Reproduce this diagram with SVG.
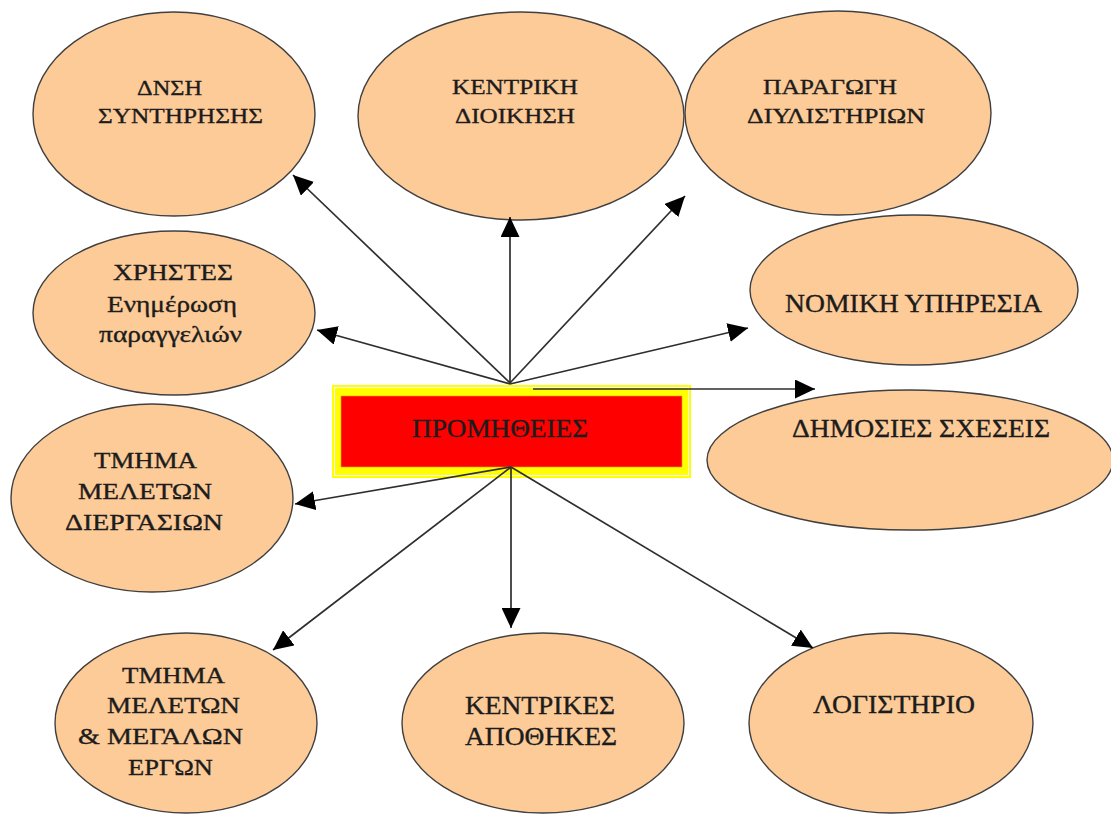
<svg xmlns="http://www.w3.org/2000/svg" width="1111" height="814" viewBox="0 0 1111 814">
<style>
.n{fill:#FDCB98;stroke:#404040;stroke-width:1.4}
.t{font-family:"Liberation Serif","DejaVu Serif",serif;fill:#1c1c1c;stroke:#1c1c1c;stroke-width:0.35;font-size:24px}
.s{font-size:22px}
.b{font-size:26px}
.c{fill:none;stroke:#2e2e2e;stroke-width:1.7}
</style>
<defs>
<marker id="ah" markerUnits="userSpaceOnUse" markerWidth="21" markerHeight="19" refX="20" refY="9.5" orient="auto" viewBox="0 0 21 19">
<path d="M0,0 L20,9.5 L0,19 Z" fill="#000"/>
</marker>
</defs>
<rect x="0" y="0" width="1111" height="814" fill="#fff"/>

<g id="dnsh">
<ellipse class="n" cx="174" cy="114" rx="141" ry="102"/>
<text class="t s" x="137" y="95" textLength="65" lengthAdjust="spacingAndGlyphs">ΔΝΣΗ</text>
<text class="t s" x="98" y="123" textLength="165" lengthAdjust="spacingAndGlyphs">ΣΥΝΤΗΡΗΣΗΣ</text>
</g>
<g id="kentriki">
<ellipse class="n" cx="521" cy="116" rx="163" ry="104"/>
<text class="t s" x="452" y="94" textLength="126" lengthAdjust="spacingAndGlyphs">ΚΕΝΤΡΙΚΗ</text>
<text class="t s" x="455" y="123" textLength="120" lengthAdjust="spacingAndGlyphs">ΔΙΟΙΚΗΣΗ</text>
</g>
<g id="paragogi">
<ellipse class="n" cx="838" cy="113" rx="153" ry="102"/>
<text class="t s" x="763" y="94" textLength="134" lengthAdjust="spacingAndGlyphs">ΠΑΡΑΓΩΓΗ</text>
<text class="t s" x="747" y="123" textLength="178" lengthAdjust="spacingAndGlyphs">ΔΙΥΛΙΣΤΗΡΙΩΝ</text>
</g>
<g id="xristes">
<ellipse class="n" cx="174" cy="313" rx="141" ry="82"/>
<text class="t" x="113" y="280" textLength="120" lengthAdjust="spacingAndGlyphs">ΧΡΗΣΤΕΣ</text>
<text class="t" x="107" y="312" textLength="130" lengthAdjust="spacingAndGlyphs">Ενημέρωση</text>
<text class="t" x="99" y="342" textLength="143" lengthAdjust="spacingAndGlyphs">παραγγελιών</text>
</g>
<g id="diergasion">
<ellipse class="n" cx="152" cy="498" rx="141" ry="94"/>
<text class="t" x="94" y="468" textLength="103" lengthAdjust="spacingAndGlyphs">ΤΜΗΜΑ</text>
<text class="t" x="78" y="499" textLength="134" lengthAdjust="spacingAndGlyphs">ΜΕΛΕΤΩΝ</text>
<text class="t" x="65" y="530" textLength="158" lengthAdjust="spacingAndGlyphs">ΔΙΕΡΓΑΣΙΩΝ</text>
</g>
<g id="nomiki">
<ellipse class="n" cx="914" cy="290" rx="164" ry="75"/>
<text class="t b" x="785" y="312" textLength="257" lengthAdjust="spacingAndGlyphs">ΝΟΜΙΚΗ ΥΠΗΡΕΣΙΑ</text>
</g>
<g id="dimosies">
<ellipse class="n" cx="910" cy="460" rx="203" ry="70"/>
<text class="t b" x="792" y="437" textLength="258" lengthAdjust="spacingAndGlyphs">ΔΗΜΟΣΙΕΣ ΣΧΕΣΕΙΣ</text>
</g>
<g id="ergon">
<ellipse class="n" cx="186" cy="723" rx="131" ry="90"/>
<text class="t" x="122" y="683" textLength="103" lengthAdjust="spacingAndGlyphs">ΤΜΗΜΑ</text>
<text class="t" x="107" y="713" textLength="133" lengthAdjust="spacingAndGlyphs">ΜΕΛΕΤΩΝ</text>
<text class="t" x="78" y="744" textLength="165" lengthAdjust="spacingAndGlyphs">&amp; ΜΕΓΑΛΩΝ</text>
<text class="t" x="128" y="775" textLength="85" lengthAdjust="spacingAndGlyphs">ΕΡΓΩΝ</text>
</g>
<g id="apothikes">
<ellipse class="n" cx="543" cy="723" rx="141" ry="90"/>
<text class="t b" x="465" y="714" textLength="150" lengthAdjust="spacingAndGlyphs">ΚΕΝΤΡΙΚΕΣ</text>
<text class="t b" x="465" y="745" textLength="152" lengthAdjust="spacingAndGlyphs">ΑΠΟΘΗΚΕΣ</text>
</g>
<g id="logistirio">
<ellipse class="n" cx="891" cy="723" rx="142" ry="90"/>
<text class="t b" x="813" y="713" textLength="162" lengthAdjust="spacingAndGlyphs">ΛΟΓΙΣΤΗΡΙΟ</text>
</g>

<g id="promitheies">
<rect x="332" y="385" width="359" height="93" fill="#FFFF00"/>
<rect x="334.5" y="387.5" width="354" height="88" fill="none" stroke="#fff" stroke-width="1"/>
<rect x="341" y="396" width="341" height="71" fill="#FF0000" stroke="#f0a000" stroke-width="0.6"/>
<text class="t b" x="412" y="437" textLength="176" lengthAdjust="spacingAndGlyphs">ΠΡΟΜΗΘΕΙΕΣ</text>
</g>

<g id="connectors" class="c" marker-end="url(#ah)">
<line x1="510" y1="383" x2="293" y2="175"/>
<line x1="510" y1="383" x2="510" y2="217"/>
<line x1="510" y1="383" x2="685" y2="196"/>
<line x1="510" y1="384" x2="317" y2="330"/>
<line x1="510" y1="384" x2="748" y2="328"/>
<line x1="533" y1="389" x2="815" y2="389"/>
<line x1="511" y1="467" x2="295" y2="504"/>
<line x1="511" y1="467" x2="273" y2="650"/>
<line x1="511" y1="467" x2="511" y2="628"/>
<line x1="511" y1="467" x2="813" y2="648"/>
</g>
</svg>
